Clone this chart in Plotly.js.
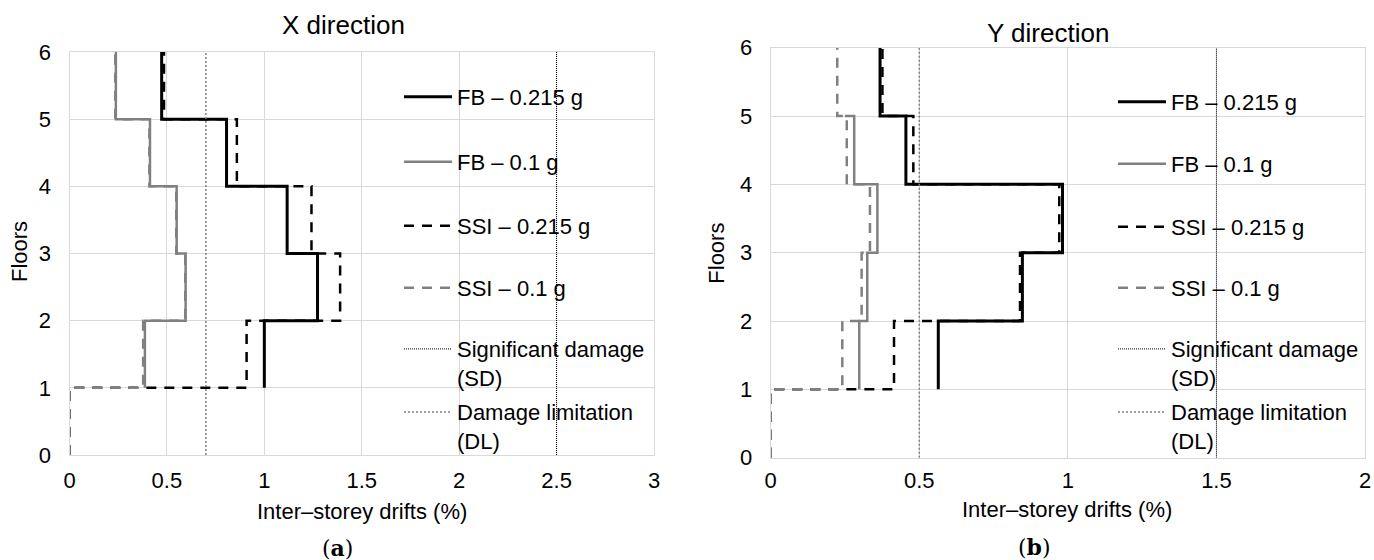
<!DOCTYPE html>
<html><head><meta charset="utf-8">
<script src="https://cdn.plot.ly/plotly-3.0.1.min.js"></script>
<style>html,body{margin:0;padding:0;background:#fff}#chart{width:1374px;height:560px}</style>
</head><body><div id="chart"></div>
<script>
// ---------- DATA ----------
const seriesNames = ['FB – 0.215 g', 'FB – 0.1 g', 'SSI – 0.215 g', 'SSI – 0.1 g'];
const limitNames = ['Significant damage<br>(SD)', 'Damage limitation<br>(DL)'];
const panelTitles = ['X direction', 'Y direction'];
const panelLabels = ['a', 'b'];
const axisTitleX = 'Inter–storey drifts (%)';
const axisTitleY = 'Floors';

// X direction: inter-storey drift (%) per storey
// FB series: storeys 2..6 (start at floor 1); SSI series: storeys 1..6 (start at floor 0)
const xFB0215  = [1.00, 1.273, 1.117, 0.806, 0.473];
const xFB01    = [0.387, 0.596, 0.550, 0.413, 0.238];
const xSSI0215 = [0, 0.909, 1.389, 1.242, 0.859, 0.485];
const xSSI01   = [0, 0.378, 0.594, 0.548, 0.410, 0.235];
const xLimits  = [2.5, 0.7];   // SD, DL

// Y direction
const yFB0215  = [0.564, 0.847, 0.982, 0.455, 0.368];
const yFB01    = [0.298, 0.325, 0.359, 0.281, 0.250];
const yFB01Top = 5;            // this series stops at floor 5 in the source
const ySSI0215 = [0, 0.415, 0.839, 0.971, 0.480, 0.376];
const ySSI01   = [0, 0.241, 0.306, 0.334, 0.256, 0.224];
const yLimits  = [1.5, 0.5];   // SD, DL

const floorRange = [0, 6];
const xRangeX = [0, 3];
const xRangeY = [0, 2];

// ---------- BUILD ----------
const W = 1374, H = 560;
const FONT = 'Liberation Sans, Arial, sans-serif';
const FS = 22;

function steps(vals, base, top) {
  top = top === undefined ? 6 : top;
  const xs = [], ys = [];
  vals.forEach((v, i) => {
    const k = base + i + 1;
    xs.push(v); ys.push(k - 1);
    if (k <= top) { xs.push(v); ys.push(k); }
  });
  return {xs, ys};
}

const styles = [
  {color: '#000000', width: 3, dash: 'solid'},
  {color: '#808080', width: 2.5, dash: 'solid'},
  {color: '#000000', width: 2.5, dash: '10px,8px'},
  {color: '#808080', width: 2.5, dash: '10px,8px'}
];
const limitStyles = [
  {color: '#000000', width: 1, dash: '1px,1px'},
  {color: '#808080', width: 1.5, dash: '2px,2px'}
];

const traces = [];
function addPanel(xa, ya, series, limits, legendStart) {
  series.forEach((s, i) => {
    traces.push({
      type: 'scatter', mode: 'lines', x: s.xs, y: s.ys, xaxis: xa, yaxis: ya,
      name: seriesNames[i], line: styles[i], hoverinfo: 'skip',
      legend: 'legend' + (legendStart + i === 1 ? '' : legendStart + i)
    });
  });
  limits.forEach((v, j) => {
    traces.push({
      type: 'scatter', mode: 'lines', x: [v, v], y: floorRange, xaxis: xa, yaxis: ya,
      name: limitNames[j], line: limitStyles[j], hoverinfo: 'skip',
      legend: 'legend' + (legendStart + 4 + j)
    });
  });
}

addPanel('x', 'y', [
  steps(xFB0215, 1), steps(xFB01, 1), steps(xSSI0215, 0), steps(xSSI01, 0)
], xLimits, 1);
addPanel('x2', 'y2', [
  steps(yFB0215, 1), steps(yFB01, 1, yFB01Top), steps(ySSI0215, 0), steps(ySSI01, 0)
], yLimits, 7);

function axisBase(range, dtick) {
  return {
    range: range, dtick: dtick, tick0: 0, showgrid: true, gridcolor: '#d9d9d9', gridwidth: 1,
    showline: true, linecolor: '#d9d9d9', linewidth: 1, mirror: true, zeroline: false,
    ticks: '', tickfont: {family: FONT, size: FS, color: '#000'}, fixedrange: true
  };
}

const layout = {
  width: W, height: H, margin: {l: 0, r: 0, t: 0, b: 0},
  paper_bgcolor: '#fff', plot_bgcolor: '#fff', showlegend: true,
  xaxis: Object.assign(axisBase(xRangeX, 0.5), {domain: [69.5 / W, 654 / W], anchor: 'y', ticklabelstandoff: 6}),
  yaxis: Object.assign(axisBase(floorRange, 1), {domain: [1 - 455 / H, 1 - 52 / H], anchor: 'x', ticklabelstandoff: 13}),
  xaxis2: Object.assign(axisBase(xRangeY, 0.5), {domain: [770.7 / W, 1365 / W], anchor: 'y2', ticklabelstandoff: 3}),
  yaxis2: Object.assign(axisBase(floorRange, 1), {domain: [1 - 457.7 / H, 1 - 47.7 / H], anchor: 'x2', ticklabelstandoff: 13}),
  annotations: []
};

// legends: one per entry so each sits where the original places it
const legendRows = [
  [399, [97, 162, 226, 288, 363.6, 426.6]],
  [1113, [102, 164, 227, 288, 363.6, 426.6]]
];
let n = 1;
legendRows.forEach(([lx, ys]) => {
  ys.forEach(ypx => {
    layout['legend' + (n === 1 ? '' : n)] = {
      x: lx / W, y: 1 - ypx / H, xref: 'paper', yref: 'paper', xanchor: 'left', yanchor: 'middle',
      bgcolor: 'rgba(0,0,0,0)', borderwidth: 0, itemwidth: 48, valign: 'top',
      font: {family: FONT, size: FS, color: '#000'}, itemclick: false, itemdoubleclick: false
    };
    n++;
  });
});

function ann(text, xpx, ypx, size, extra) {
  layout.annotations.push(Object.assign({
    text: text, x: xpx / W, y: 1 - ypx / H, xref: 'paper', yref: 'paper',
    xanchor: 'center', yanchor: 'middle', showarrow: false,
    font: {family: FONT, size: size, color: '#000'}
  }, extra || {}));
}
const SERIF = {family: 'DejaVu Serif, Liberation Serif, serif', size: 22, color: '#000'};
ann(panelTitles[0], 343, 25, 26);
ann(panelTitles[1], 1048, 33, 26);
ann(axisTitleX, 361.7, 511, FS);
ann(axisTitleX, 1067, 509, FS);
ann(axisTitleY, 20, 252, FS, {textangle: -90});
ann(axisTitleY, 716.7, 253, FS, {textangle: -90});
ann('(<b>' + panelLabels[0] + '</b>)', 337, 548, 22, {font: SERIF});
ann('(<b>' + panelLabels[1] + '</b>)', 1034, 547, 22, {font: SERIF});

Plotly.newPlot('chart', traces, layout, {staticPlot: true, displayModeBar: false});
</script>
</body></html>
